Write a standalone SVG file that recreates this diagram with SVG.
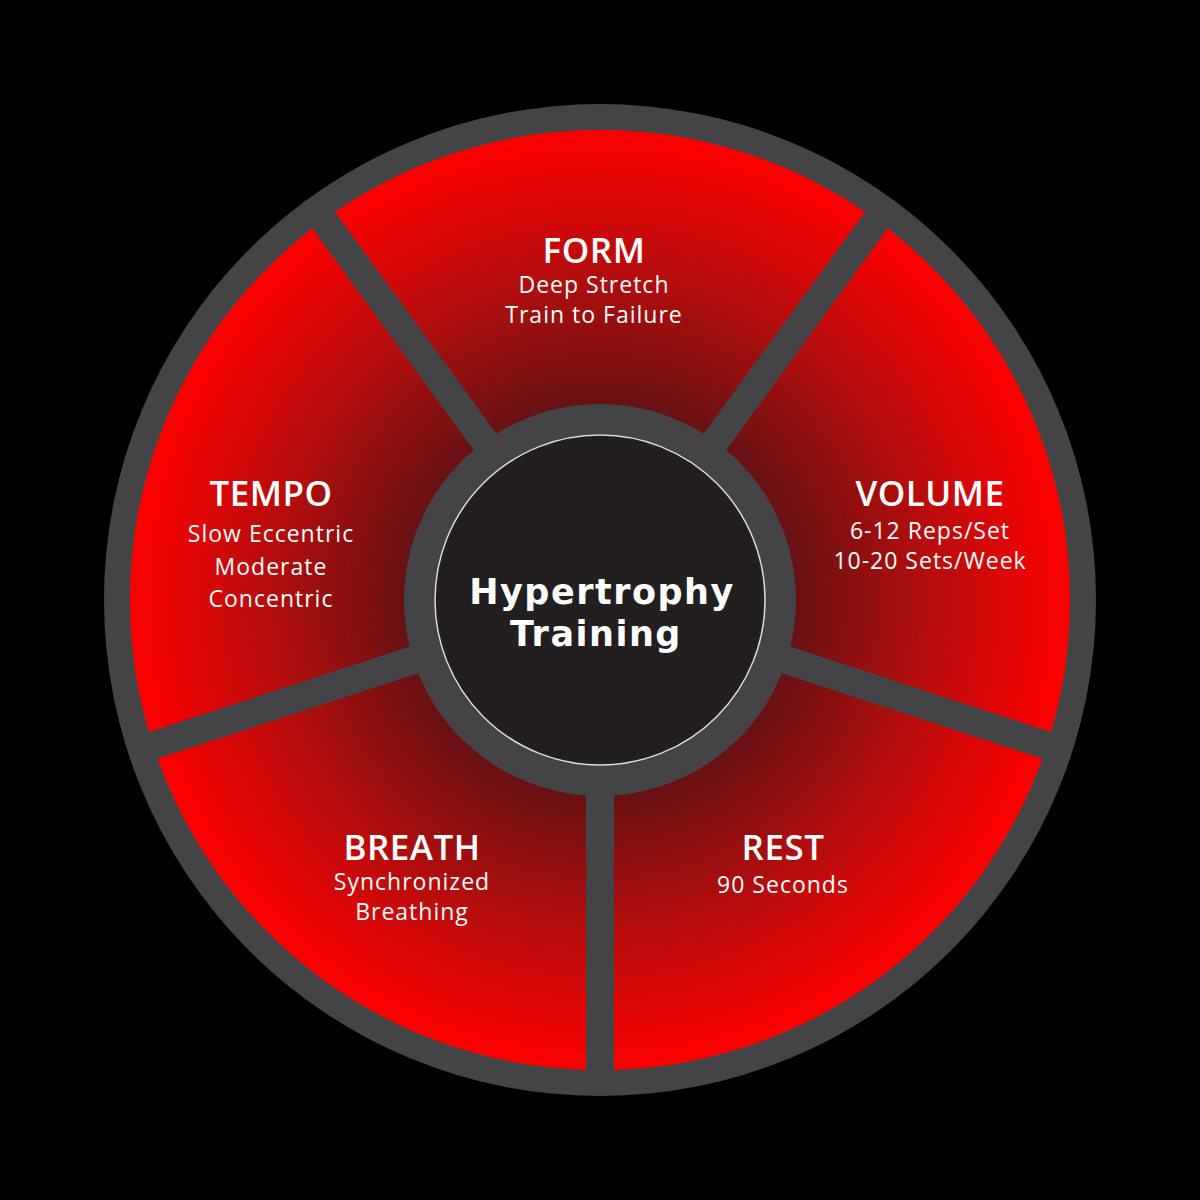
<svg xmlns="http://www.w3.org/2000/svg" width="1200" height="1200" viewBox="0 0 1200 1200">
<defs>
<radialGradient id="rg" gradientUnits="userSpaceOnUse" cx="600" cy="600" r="470">
<stop offset="0.38" stop-color="#5e1214"/>
<stop offset="0.7" stop-color="#b50d0d"/>
<stop offset="1" stop-color="#ff0000"/>
</radialGradient>
<style>
.seg{fill:url(#rg)}
.t{font-family:"Open Sans","Liberation Sans",sans-serif;fill:#fff;text-anchor:middle}
.h{font-size:35px;font-weight:600;letter-spacing:0.5px}
.s{font-size:23px;letter-spacing:1px}
.c{font-family:"DejaVu Sans","Liberation Sans",sans-serif;font-weight:bold;font-size:35px;letter-spacing:1.5px;fill:#fff;text-anchor:middle}
.div{stroke:#444446;stroke-width:28;fill:none}
</style>
</defs>
<rect width="1200" height="1200" fill="#000"/>
<circle cx="600" cy="600" r="496" fill="#444446"/>
<g id="form"><path class="seg" d="M323.7,219.8 A470,470 0 0 1 876.3,219.8 L714.6,442.2 A195,195 0 0 0 485.4,442.2 Z"/>
<text class="t h" x="594" y="263">FORM</text><text class="t s" x="594" y="293">Deep Stretch</text><text class="t s" x="594" y="323">Train to Failure</text></g>
<g id="volume"><path class="seg" d="M876.3,219.8 A470,470 0 0 1 1047,745.2 L785.5,660.3 A195,195 0 0 0 714.6,442.2 Z"/>
<text class="t h" x="930" y="506">VOLUME</text><text class="t s" x="930" y="539">6-12 Reps/Set</text><text class="t s" x="930" y="569">10-20 Sets/Week</text></g>
<g id="rest"><path class="seg" d="M1047,745.2 A470,470 0 0 1 600,1070 L600,795 A195,195 0 0 0 785.5,660.3 Z"/>
<text class="t h" x="783" y="860">REST</text><text class="t s" x="783" y="893">90 Seconds</text></g>
<g id="breath"><path class="seg" d="M600,1070 A470,470 0 0 1 153,745.2 L414.5,660.3 A195,195 0 0 0 600,795 Z"/>
<text class="t h" x="412" y="860">BREATH</text><text class="t s" x="412" y="890">Synchronized</text><text class="t s" x="412" y="920">Breathing</text></g>
<g id="tempo"><path class="seg" d="M153,745.2 A470,470 0 0 1 323.7,219.8 L485.4,442.2 A195,195 0 0 0 414.5,660.3 Z"/>
<text class="t h" x="271" y="506">TEMPO</text><text class="t s" x="271" y="542">Slow Eccentric</text><text class="t s" x="271" y="575">Moderate</text><text class="t s" x="271" y="607">Concentric</text></g>
<g id="connectors">
<line class="div" x1="600" y1="780" x2="600" y2="1085"/>
<line class="div" x1="429" y1="655" x2="139" y2="750"/>
<line class="div" x1="494" y1="454" x2="314" y2="207"/>
<line class="div" x1="706" y1="454" x2="886" y2="207"/>
<line class="div" x1="771" y1="655" x2="1061" y2="750"/>
</g>
<g id="center">
<circle cx="600" cy="600" r="196" fill="#444446"/>
<circle cx="600" cy="600" r="165" fill="#231f20" stroke="#d8d8d8" stroke-width="1.5"/>
<text class="c" x="602" y="604">Hypertrophy</text>
<text class="c" x="596" y="646">Training</text>
</g>
</svg>
